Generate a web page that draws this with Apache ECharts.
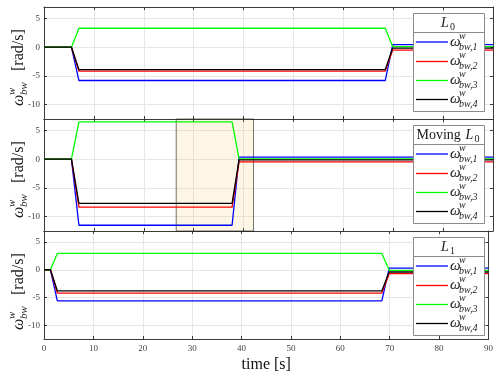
<!DOCTYPE html>
<html>
<head>
<meta charset="utf-8">
<script src="https://cdn.jsdelivr.net/npm/echarts@6/dist/echarts.min.js"></script>
<style>
  html, body { margin: 0; padding: 0; background: #fff; }
  #chart { width: 496px; height: 374px; }
</style>
</head>
<body>
<div id="chart"></div>
<script>
// time breakpoints of each run [s]
var tL0 = [0, 5.5, 7, 68.4, 69.9, 90];
var tMoving = [0, 5.5, 7, 37.7, 39.1, 90];
var tL1 = [0, 1.3, 2.7, 68.4, 69.9, 90];

// wheel speeds omega_bw,i [rad/s]
var L0_w1 = [0, 0, -5.8, -5.8, 0.45, 0.45];
var L0_w2 = [0, 0, -4.15, -4.15, -0.5, -0.5];
var L0_w3 = [0, 0, 3.3, 3.3, 0.1, 0.1];
var L0_w4 = [0, 0, -3.9, -3.9, -0.15, -0.15];

var mov_w1 = [0, 0, -11.5, -11.5, 0.35, 0.35];
var mov_w2 = [0, 0, -8.35, -8.35, -0.45, -0.45];
var mov_w3 = [0, 0, 6.5, 6.5, 0.05, 0.05];
var mov_w4 = [0, 0, -7.7, -7.7, -0.1, -0.1];

var L1_w1 = [0, 0, -5.6, -5.6, 0.3, 0.3];
var L1_w2 = [0, 0, -4.2, -4.2, -0.7, -0.7];
var L1_w3 = [0, 0, 2.95, 2.95, -0.1, -0.1];
var L1_w4 = [0, 0, -3.8, -3.8, -0.4, -0.4];

var yTicks = [-10, -5, 0, 5];
var wheelSubs = ['bw,1', 'bw,2', 'bw,3', 'bw,4'];
var shadeRange = [26.5, 42];   // highlighted window in the "Moving L0" run

var colors = ['#0000ff', '#ff0000', '#00ff00', '#000000'];
var serif = "'Liberation Serif', 'DejaVu Serif', serif";

var panels = [
  { t: tL0, w: [L0_w1, L0_w2, L0_w3, L0_w4], title: [['L', 'i'], ['0', 's']] },
  { t: tMoving, w: [mov_w1, mov_w2, mov_w3, mov_w4], title: [['Moving ', 'n'], ['L', 'i'], ['0', 's']] },
  { t: tL1, w: [L1_w1, L1_w2, L1_w3, L1_w4], title: [['L', 'i'], ['1', 's']] }
];
var tops = [7, 119, 231];
var gridH = 112;

var grids = [], xAxes = [], yAxes = [], series = [], graphics = [];
var axisCol = '#3a3a3a';

function txt(x, y, s, font, align) {
  return {
    type: 'text', z: 101, x: x, y: y,
    style: { text: s, font: font, fill: '#1a1a1a',
      align: align || 'left', textAlign: align || 'left',
      verticalAlign: 'middle', textVerticalAlign: 'middle' }
  };
}

panels.forEach(function (p, i) {
  var top = tops[i];
  grids.push({ left: 44, top: top, width: 449, height: gridH });

  // bottom + top x axes (ticks on both sides, like a boxed plot)
  xAxes.push({
    type: 'value', gridIndex: i, position: 'bottom', min: 0, max: 90, interval: 10,
    axisLine: { show: true, onZero: false, lineStyle: { color: axisCol } },
    axisTick: { show: true, inside: true, length: 3, lineStyle: { color: axisCol } },
    axisLabel: { show: i === 2, color: '#444', fontFamily: serif, fontSize: 9, margin: 5 },
    splitLine: { show: true, lineStyle: { color: '#e6e6e6' } },
    name: i === 2 ? 'time [s]' : '', nameLocation: 'middle', nameGap: 18,
    nameTextStyle: { fontFamily: serif, fontSize: 16, color: '#111' }
  });
  xAxes.push({
    type: 'value', gridIndex: i, position: 'top', min: 0, max: 90, interval: 10,
    axisLine: { show: true, onZero: false, lineStyle: { color: axisCol } },
    axisTick: { show: true, inside: true, length: 3, lineStyle: { color: axisCol } },
    axisLabel: { show: false }, splitLine: { show: false }
  });
  yAxes.push({
    type: 'value', gridIndex: i, position: 'left', min: -12.5, max: 7,
    axisLine: { show: true, onZero: false, lineStyle: { color: axisCol } },
    axisTick: { show: true, inside: true, length: 3, customValues: yTicks, lineStyle: { color: axisCol } },
    axisLabel: { show: true, customValues: yTicks, color: '#444', fontFamily: serif, fontSize: 9, margin: 4 },
    splitLine: { show: true, lineStyle: { color: '#e6e6e6' } }
  });
  yAxes.push({
    type: 'value', gridIndex: i, position: 'right', min: -12.5, max: 7,
    axisLine: { show: true, onZero: false, lineStyle: { color: axisCol } },
    axisTick: { show: true, inside: true, length: 3, customValues: yTicks, lineStyle: { color: axisCol } },
    axisLabel: { show: false }, splitLine: { show: false }
  });

  p.w.forEach(function (vals, k) {
    var s = {
      type: 'line', xAxisIndex: 2 * i, yAxisIndex: 2 * i,
      showSymbol: false, symbol: 'none', animation: false,
      lineStyle: { color: colors[k], width: 1.3 },
      data: p.t.map(function (tt, j) { return [tt, vals[j]]; })
    };
    if (i === 1 && k === 0) {
      s.markArea = {
        silent: true,
        itemStyle: { color: 'rgba(237,177,32,0.12)', borderColor: 'rgba(0,0,0,0.55)', borderWidth: 1 },
        data: [[{ xAxis: shadeRange[0] }, { xAxis: shadeRange[1] }]]
      };
    }
    series.push(s);
  });

  // legend box with a title row
  var bx = 413, by = top + 6, bw = 71, bh = 98;
  graphics.push({ type: 'rect', z: 100, shape: { x: bx + 0.5, y: by + 0.5, width: bw, height: bh },
    style: { fill: '#fff', stroke: '#8a8a8a', lineWidth: 1 } });
  graphics.push({ type: 'line', z: 101, shape: { x1: bx, y1: by + 19.5, x2: bx + bw, y2: by + 19.5 },
    style: { stroke: '#8a8a8a', lineWidth: 1 } });
  var tw = 0;
  p.title.forEach(function (part) {
    tw += part[1] === 's' ? 6 : (part[1] === 'i' ? 9 : part[0].length * 7);
  });
  var tx = bx + bw / 2 - tw / 2;
  p.title.forEach(function (part) {
    if (part[1] === 'n') {
      graphics.push(txt(tx, by + 10, part[0], '14px ' + serif));
      tx += part[0].length * 7;
    } else if (part[1] === 'i') {
      graphics.push(txt(tx, by + 10, part[0], 'italic 14px ' + serif));
      tx += 9;
    } else {
      graphics.push(txt(tx, by + 14, part[0], '10px ' + serif));
      tx += 6;
    }
  });
  [29, 48.5, 67.5, 86.5].forEach(function (dy, k) {
    var ey = by + dy;
    graphics.push({ type: 'line', z: 101, shape: { x1: 416, y1: ey, x2: 448, y2: ey },
      style: { stroke: colors[k], lineWidth: 1.3 } });
    graphics.push(txt(450, ey, '\u03c9', 'italic 15px ' + serif));
    graphics.push(txt(459, ey - 6, 'w', 'italic 10px ' + serif));
    graphics.push(txt(459, ey + 5, wheelSubs[k], 'italic 10px ' + serif));
  });

  // rotated y axis label: omega^w_bw [rad/s]
  graphics.push({
    type: 'group', x: 19, y: top + 56, rotation: Math.PI / 2,
    children: [
      txt(-43, 0, '\u03c9', 'italic 16px ' + serif),
      txt(-32, -7, 'w', 'italic 11px ' + serif),
      txt(-32, 5, 'bw', 'italic 11px ' + serif),
      txt(-8, 0, '[rad/s]', '16px ' + serif)
    ]
  });
});

var chart = echarts.init(document.getElementById('chart'));
chart.setOption({
  animation: false,
  backgroundColor: '#fff',
  grid: grids,
  xAxis: xAxes,
  yAxis: yAxes,
  series: series,
  graphic: graphics
});
</script>
</body>
</html>
